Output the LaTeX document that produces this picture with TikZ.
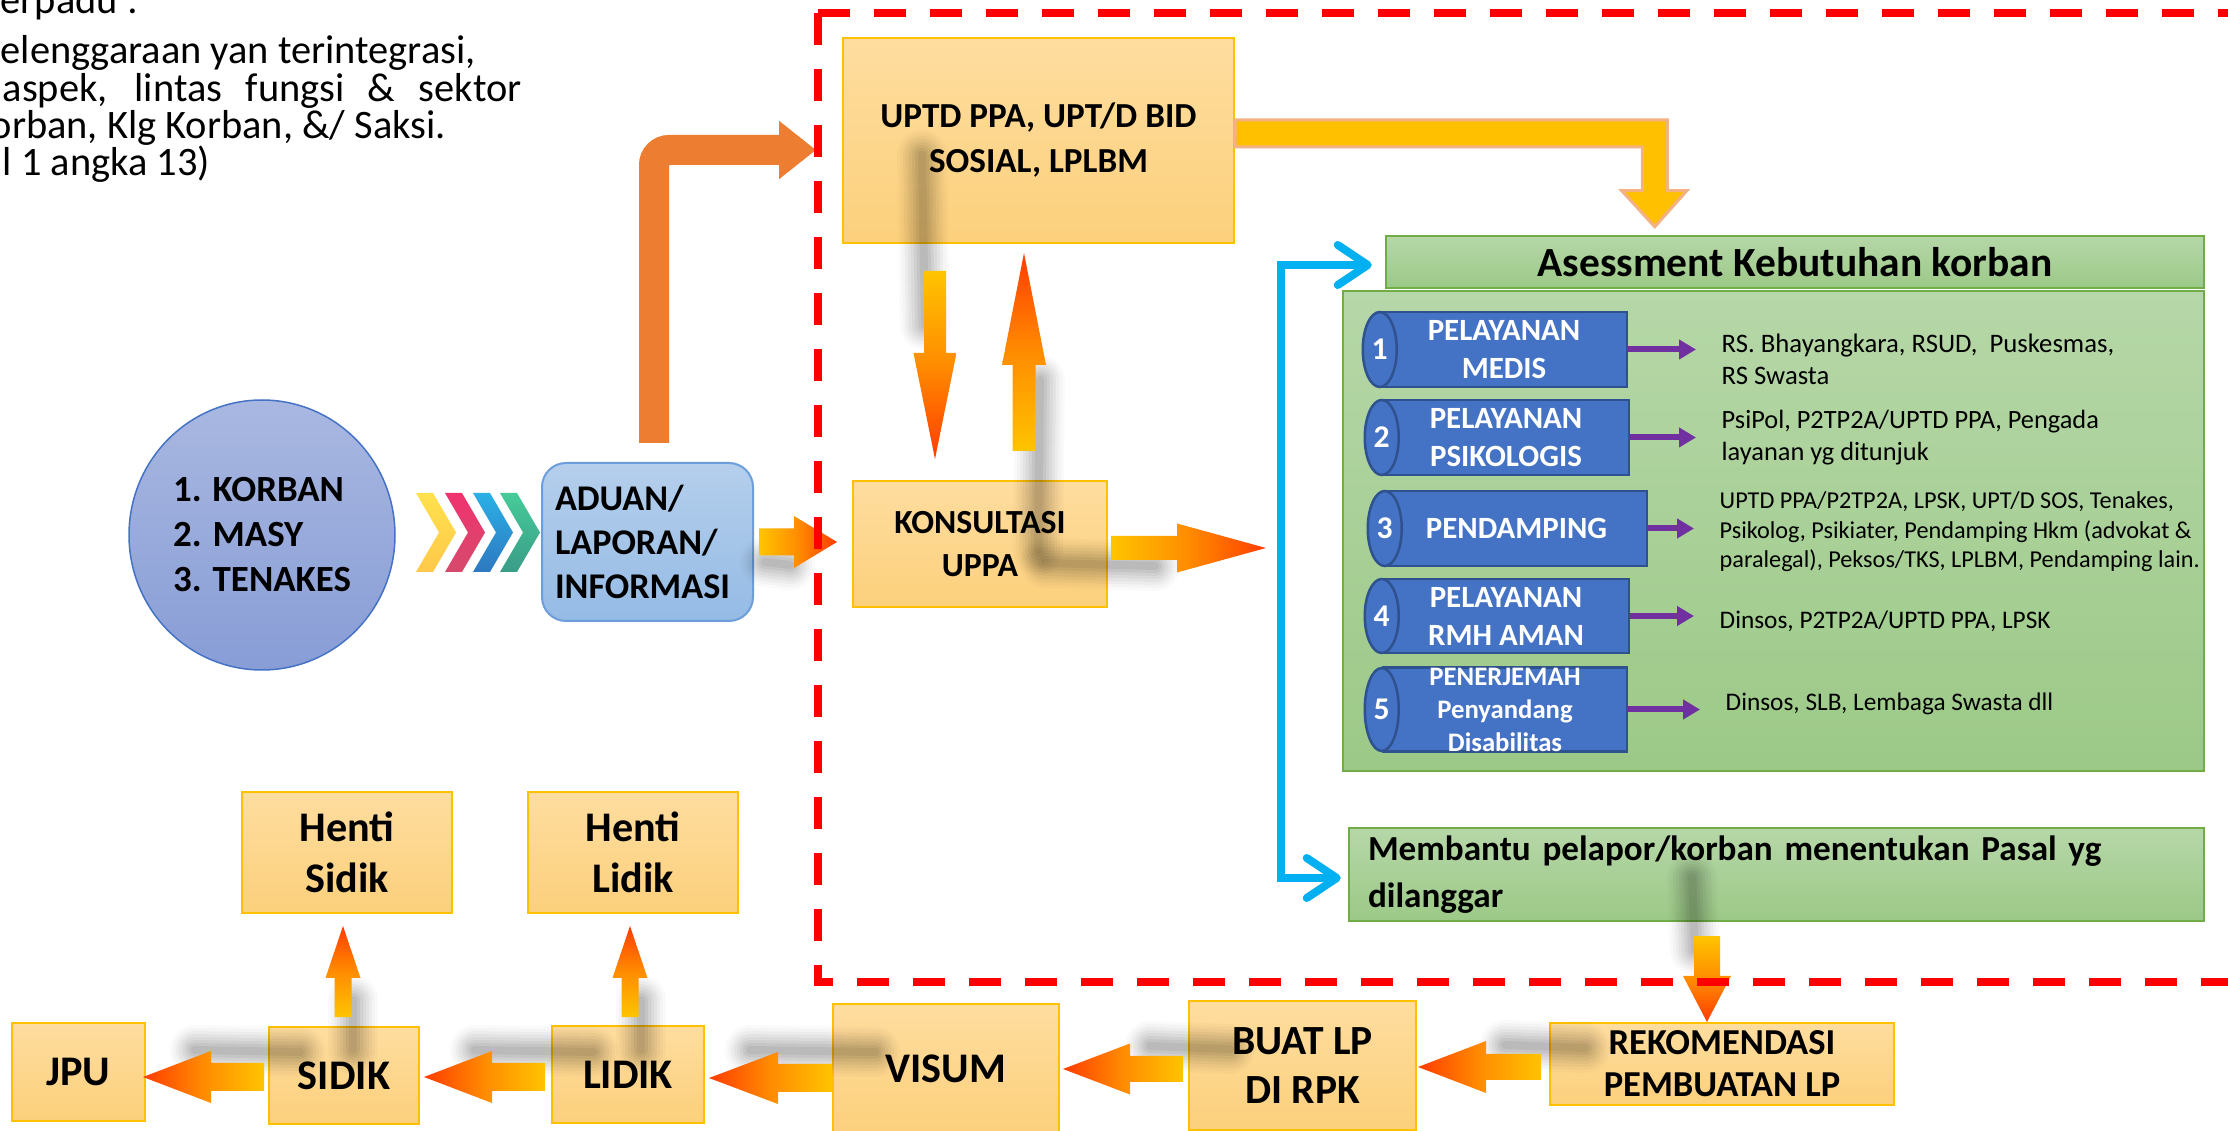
\documentclass[tikz,border=0pt]{standalone}
\usepackage{fontspec}
\setmainfont{Carlito}
\usetikzlibrary{shapes.geometric,arrows.meta,calc}

\definecolor{boxtop}{HTML}{FEDD9F}
\definecolor{boxbot}{HTML}{FCD07C}
\definecolor{boxedge}{HTML}{FFC000}
\definecolor{greentop}{HTML}{B6D7A8}
\definecolor{greenbot}{HTML}{9CC987}
\definecolor{greenedge}{HTML}{70AD47}
\definecolor{cylfill}{HTML}{4472C4}
\definecolor{cyledge}{HTML}{2F528F}
\definecolor{cyanblue}{HTML}{00B0F0}
\definecolor{arrowpurple}{HTML}{7030A0}
\definecolor{orangeA}{HTML}{ED7D31}
\definecolor{gold}{HTML}{FFC000}
\definecolor{goldedge}{HTML}{F4B183}
\definecolor{hotgold}{HTML}{FFC400}
\definecolor{hotorange}{HTML}{FF8C00}
\definecolor{hotred}{HTML}{FF3C00}
\definecolor{elltop}{HTML}{A9B8E1}
\definecolor{ellbot}{HTML}{889DD6}
\definecolor{aduantop}{HTML}{B5CFEC}
\definecolor{aduanbot}{HTML}{95BBE5}
\definecolor{aduanedge}{HTML}{6D9EDB}
\definecolor{chyt}{HTML}{FFE14D}\definecolor{chyb}{HTML}{FFC84A}
\definecolor{chpt}{HTML}{F0336F}\definecolor{chpb}{HTML}{D64A6C}
\definecolor{chbt}{HTML}{2BB0E6}\definecolor{chbb}{HTML}{2E78C0}
\definecolor{chgt}{HTML}{46CB98}\definecolor{chgb}{HTML}{3A9C88}

\newcommand\fsz[2]{\fontsize{#1}{#2}\selectfont}
% block arrows: style, tip, tail, head length (signed), head half width, shaft half width
\newcommand\hblk[6]{\path[#1] (#2) -- ($(#2)+(#4,-#5)$) -- ($(#2)+(#4,-#6)$) -- ($(#3 |- #2)+(0,-#6)$) -- ($(#3 |- #2)+(0,#6)$) -- ($(#2)+(#4,#6)$) -- ($(#2)+(#4,#5)$) -- cycle;}
\newcommand\vblk[6]{\path[#1] (#2) -- ($(#2)+(#5,#4)$) -- ($(#2)+(#6,#4)$) -- ($(#2 |- #3)+(#6,0)$) -- ($(#2 |- #3)+(-#6,0)$) -- ($(#2)+(-#6,#4)$) -- ($(#2)+(-#5,#4)$) -- cycle;}
\newcommand\softshadow[2]{\foreach \w/\o in {5mm/0.02,4.4mm/0.025,3.8mm/0.03,3.2mm/0.035,2.6mm/0.04,2mm/0.045,1.4mm/0.05,0.8mm/0.05}{\draw[line width=\w,black,opacity=\o,line cap=round] (#1) -- (#2);}}

\tikzset{
  introtxt/.style={anchor=base west,inner sep=0pt,font=\fsz{11.5}{13.7}},
  obox/.style={rectangle,draw=boxedge,line width=0.2mm,top color=boxtop,bottom color=boxbot,align=center,inner sep=0pt,font=\bfseries\fsz{12}{14.5}},
  gbox/.style={rectangle,draw=greenedge,line width=0.25mm,top color=greentop,bottom color=greenbot,inner sep=0pt},
  cylbody/.style={rectangle,draw=cyledge,line width=0.25mm,fill=cylfill,text=white,align=center,inner sep=0pt,font=\bfseries\fsz{8.8}{10.8}},
  cylcap/.style={ellipse,draw=cyledge,line width=0.25mm,fill=cylfill,text=white,inner sep=0pt,minimum width=3.4mm,font=\bfseries\fsz{9}{10}},
  desc/.style={anchor=west,align=left,inner sep=0pt,font=\fsz{7.2}{8.8}},
  purplearrow/.style={draw=arrowpurple,line width=0.6mm,-{Triangle[length=1.7mm,width=1.9mm]},shorten >=2.5mm},
  cyanln/.style={draw=cyanblue,line width=0.8mm,{Straight Barb[length=3mm,width=4mm,round]}-{Straight Barb[length=3mm,width=4mm,round]}},
  reddash/.style={draw=red,line width=0.8mm,dash pattern=on 3.2mm off 2.4mm},
  hotL/.style={left color=hotred,right color=hotgold,middle color=hotorange},
  hotR/.style={left color=hotgold,right color=hotred,middle color=hotorange},
  hotD/.style={top color=hotgold,bottom color=hotred,middle color=hotorange},
  hotU/.style={top color=hotred,bottom color=hotgold,middle color=hotorange}
}

\begin{document}
\begin{tikzpicture}[x=0.1mm,y=-0.1mm]
\useasboundingbox (0,0) rectangle (2228,1131);
\fill[white] (0,0) rectangle (2228,1131);
\clip (0,0) rectangle (2228,1131);

\node[introtxt] (i1) at (0,14) {erpadu :};
\node[introtxt] (i2) at (0,64) {elenggaraan yan terintegrasi,};
\node[introtxt] (i3) at (2,102) {\makebox[51.9mm][s]{aspek, lintas fungsi \& sektor}};
\node[introtxt] (i4) at (-10,139) {orban, Klg Korban, \&/ Saksi.};
\node[introtxt] (i5) at (2,176) {l 1 angka 13)};

\node[ellipse,draw=cylfill,line width=0.15mm,top color=elltop,bottom color=ellbot,minimum width=26.6mm,minimum height=27mm,inner sep=0pt,align=left,font=\bfseries\fsz{10.5}{12.8}] (korban) at (262,535) {1. KORBAN\\2. MASY\\3. TENAKES};
\foreach \x/\ct/\cb in {416/chyt/chyb,445/chpt/chpb,473/chbt/chbb,500/chgt/chgb}
  \path[top color=\ct,bottom color=\cb] (\x,493) -- ++(17,0) -- ++(23,39.5) -- ++(-23,39.5) -- ++(-17,0) -- ++(23,-39.5) -- cycle;
\node[rectangle,rounded corners=2.4mm,draw=aduanedge,line width=0.2mm,top color=aduantop,bottom color=aduanbot,text width=18.5mm,inner xsep=1.3mm,inner ysep=0pt,minimum height=15.8mm,align=left,font=\bfseries\fsz{10.3}{12.5}] (aduan) at (647.5,542) {ADUAN/\\LAPORAN/\\INFORMASI};

\node[obox,minimum width=39.1mm,minimum height=20.5mm,font=\bfseries\fsz{10}{12.8}] (uptd) at (1038.5,140.5) {\raisebox{-1.5pt}{UPTD PPA, UPT/D BID}\\\raisebox{-1.5pt}{SOSIAL, LPLBM}};
\node[obox,minimum width=25.4mm,minimum height=12.6mm,font=\bfseries\fsz{9.6}{12.2}] (kons) at (980,544) {KONSULTASI\\UPPA};

\node[gbox,minimum width=81.8mm,minimum height=5.2mm,font=\bfseries\fsz{11.8}{14}] (asess) at (1795,262) {Asessment Kebutuhan korban};
\node[gbox,minimum width=86.1mm,minimum height=48mm] (needs) at (1773.5,531) {};
\node[cylbody,minimum width=24.6mm,minimum height=7.5mm] (c1) at (1504,349.5) {PELAYANAN\\MEDIS};
\node[cylbody,minimum width=24.6mm,minimum height=7.5mm] (c2) at (1506,437.5) {PELAYANAN\\PSIKOLOGIS};
\node[cylbody,minimum width=26.1mm,minimum height=7.5mm] (c3) at (1516.5,528.5) {PENDAMPING};
\node[cylbody,minimum width=24.6mm,minimum height=7.4mm] (c4) at (1506,616) {PELAYANAN\\RMH AMAN};
\node[cylbody,minimum width=24.4mm,minimum height=8.3mm,font=\bfseries\fsz{7.6}{9.4}] (c5) at (1505,709.5) {PENERJEMAH\\Penyandang\\Disabilitas};
\node[cylcap,minimum height=7.5mm] (n1) at (c1.west) {1};
\node[cylcap,minimum height=7.5mm] (n2) at (c2.west) {2};
\node[cylcap,minimum height=7.5mm] (n3) at (c3.west) {3};
\node[cylcap,minimum height=7.4mm] (n4) at (c4.west) {4};
\node[cylcap,minimum height=8.3mm] (n5) at (c5.west) {5};
\node[desc,font=\fsz{7.6}{9.1}] (d1) at (1721,359) {RS. Bhayangkara, RSUD,\ \ Puskesmas,\\RS Swasta};
\node[desc,font=\fsz{7.5}{9.1}] (d2) at (1721,438) {PsiPol, P2TP2A/UPTD PPA, Pengada\\layanan yg ditunjuk};
\node[desc,font=\fsz{6.9}{8.4}] (d3) at (1719,532) {UPTD PPA/P2TP2A, LPSK, UPT/D SOS, Tenakes,\\Psikolog, Psikiater, Pendamping Hkm (advokat \&\\paralegal), Peksos/TKS, LPLBM, Pendamping lain.};
\node[desc] (d4) at (1719,621) {Dinsos, P2TP2A/UPTD PPA, LPSK};
\node[desc] (d5) at (1725,704) {Dinsos, SLB, Lembaga Swasta dll};
\node[gbox,text width=81.7mm,inner xsep=1.9mm,minimum height=9.3mm,align=left,font=\bfseries\fsz{10}{13.3}] (memb) at (1776.5,874.5) {Membantu pelapor/korban menentukan Pasal yg\\dilanggar};

\node[obox,minimum width=34.4mm,minimum height=8.2mm,font=\bfseries\fsz{10.4}{12}] (reko) at (1722,1064) {REKOMENDASI\\PEMBUATAN LP};
\node[obox,minimum width=22.7mm,minimum height=12.9mm,font=\bfseries\fsz{11.8}{13.9}] (buat) at (1302.5,1065.5) {BUAT LP\\DI RPK};
\node[obox,minimum width=22.6mm,minimum height=13mm] (visum) at (946,1069) {VISUM};
\node[obox,minimum width=15.2mm,minimum height=9.7mm] (lidik) at (628,1074.5) {LIDIK};
\node[obox,minimum width=15mm,minimum height=9.7mm] (sidik) at (344,1075.5) {SIDIK};
\node[obox,minimum width=13.3mm,minimum height=9.8mm] (jpu) at (78.5,1072) {JPU};
\node[obox,minimum width=21mm,minimum height=12.1mm] (hsidik) at (347,852.5) {Henti\\Sidik};
\node[obox,minimum width=21mm,minimum height=12.1mm] (hlidik) at (633,852.5) {Henti\\Lidik};

% shadows
\softshadow{922,155}{925,325}
\softshadow{1040,380}{1038,550}
\softshadow{1045,563}{1155,566}
\softshadow{765,562}{790,565}
\softshadow{1692,877}{1695,950}
\softshadow{1505,1045}{1585,1048}
\softshadow{1150,1046}{1230,1049}
\softshadow{750,1050}{875,1052}
\softshadow{475,1050}{593,1052}
\softshadow{195,1050}{300,1052}
\softshadow{353,1000}{353,1050}
\softshadow{641,1000}{641,1050}

\coordinate (bline) at (1281,560);
\coordinate (otip) at ($(uptd.west)+(-26,9.5)$);
\coordinate (gtip) at ($(asess.north west)+(270,-8)$);
\coordinate (gstart) at ($(uptd.east)+(0,-7)$);

\draw[line width=3mm,draw=orangeA,rounded corners=1.5mm,-{Triangle[length=3.7mm,width=5.6mm]}] ($(aduan.north)+(6.5,-19)$) |- (otip);
\filldraw[fill=gold,draw=goldedge,line width=0.3mm] ($(gstart)+(0,-13.5)$) -- ($(gstart -| gtip)+(12.5,-13.5)$) -- ($(gtip)+(12.5,-36)$) -- ($(gtip)+(32,-36)$) -- (gtip) -- ($(gtip)+(-33,-36)$) -- ($(gtip)+(-12.5,-36)$) -- ($(gstart -| gtip)+(-12.5,13.5)$) -- ($(gstart)+(0,13.5)$) -- cycle;

\coordinate (a1tip) at ($(kons.west)+(-15,-2)$);
\coordinate (a1tail) at ($(aduan.east)+(5,0)$);
\hblk{hotR}{a1tip}{a1tail}{-43}{26}{13.5}
\coordinate (a2tip) at ($(kons.north)+(-45,-21)$);
\coordinate (a2tail) at ($(uptd.south)+(-103.5,27)$);
\vblk{hotD}{a2tip}{a2tail}{-106}{21.5}{11}
\coordinate (a3tip) at ($(uptd.south)+(-14.5,9)$);
\coordinate (a3tail) at ($(kons.north)+(44,-29)$);
\vblk{hotU}{a3tip}{a3tail}{112}{22}{11.5}
\coordinate (a4tip) at ($(kons.east -| bline)+(-15,4)$);
\coordinate (a4tail) at ($(kons.east)+(3,4)$);
\hblk{hotR}{a4tip}{a4tail}{-89}{24.5}{12}

\coordinate (d3tip) at ($(reko.north)+(-15,0)$);
\coordinate (d3tail) at ($(memb.south)+(-69.5,14)$);
\vblk{hotD}{d3tip}{d3tail}{-46}{24}{13}
\coordinate (b1tip) at ($(buat.east)+(1,1.5)$);
\coordinate (b1tail) at ($(reko.west)+(-8,0)$);
\hblk{hotL}{b1tip}{b1tail}{68}{26}{13}
\coordinate (b2tip) at ($(visum.east)+(3,0)$);
\coordinate (b2tail) at ($(buat.west)+(-5,0)$);
\hblk{hotL}{b2tip}{b2tail}{67}{25.5}{13}
\coordinate (b3tip) at ($(lidik.east)+(4,3.5)$);
\coordinate (b3tail) at (visum.west);
\hblk{hotL}{b3tip}{b3tail}{69}{26}{14}
\coordinate (b4tip) at ($(sidik.east)+(4,1.5)$);
\coordinate (b4tail) at ($(lidik.west)+(-6,0)$);
\hblk{hotL}{b4tip}{b4tail}{68}{26}{14}
\coordinate (b5tip) at ($(jpu.east)+(-3,5)$);
\coordinate (b5tail) at ($(sidik.west)+(-4,0)$);
\hblk{hotL}{b5tip}{b5tail}{68}{26}{14}
\coordinate (u1tip) at ($(hsidik.south)+(-4,12)$);
\coordinate (u1tail) at ($(sidik.north)+(-1,-9)$);
\vblk{hotU}{u1tip}{u1tail}{52}{17.5}{8.5}
\coordinate (u2tip) at ($(hlidik.south)+(-3,12)$);
\coordinate (u2tail) at ($(lidik.north)+(2,-8)$);
\vblk{hotU}{u2tip}{u2tail}{52}{17.5}{8.5}

\draw[cyanln] ($(asess.west)+(-13,3)$) -| (bline) |- ($(memb.west)+(-7,3.5)$);
\foreach \i in {1,...,5}
  \draw[purplearrow] (c\i.east) -- (c\i.east -| d\i.west);

\draw[reddash] (818,13) -- (2260,13);
\draw[reddash] (818,13) -- (818,982) -- (2260,982);
\end{tikzpicture}
\end{document}
